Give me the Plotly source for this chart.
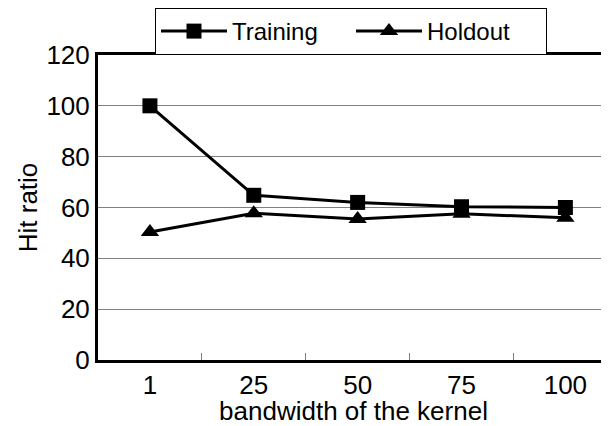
import plotly.graph_objects as go

categories = ["1", "25", "50", "75", "100"]
training = [100, 64.8, 62.0, 60.3, 60.0]
holdout = [50.4, 57.7, 55.5, 57.5, 56.0]
y_ticks = [0, 20, 40, 60, 80, 100, 120]

FONT = "Liberation Sans, Arial, sans-serif"

# The page body has an 8px margin, so the figure is sized to fit the window.
W, H = 601, 418

fig = go.Figure()
fig.add_trace(go.Scatter(
    x=categories, y=training, name="Training", mode="lines+markers",
    line=dict(color="black", width=3),
    marker=dict(symbol="square", size=15, color="black"),
    cliponaxis=False,
))
fig.add_trace(go.Scatter(
    x=categories, y=holdout, name="Holdout", mode="lines+markers",
    line=dict(color="black", width=3),
    marker=dict(symbol="triangle-up", size=16, color="black"),
    cliponaxis=False,
))

fig.update_layout(
    width=W, height=H,
    margin=dict(l=90, r=0, t=47, b=66, autoexpand=False),
    paper_bgcolor="white", plot_bgcolor="white",
    font=dict(family=FONT, color="black", size=26),
    showlegend=True,
    legend=dict(
        orientation="h", x=147 / W, xref="container", xanchor="left",
        y=1.0, yref="container", yanchor="top",
        bordercolor="black", borderwidth=1,
        font=dict(size=24), bgcolor="white",
        itemwidth=66,
        entrywidth=114, entrywidthmode="pixels",
        tracegroupgap=0,
    ),
    xaxis=dict(
        type="category", range=[-0.5, 4.42],
        showline=True, linecolor="black", linewidth=3, mirror=True,
        ticks="inside", tickson="boundaries", ticklen=7, tickcolor="#808080", tickwidth=1,
        showgrid=False, zeroline=False,
        tickfont=dict(size=26),
        title=dict(text="bandwidth of the kernel", font=dict(size=26), standoff=6),
    ),
    yaxis=dict(
        range=[0, 120], tickvals=y_ticks,
        showline=True, linecolor="black", linewidth=3,
        showgrid=True, gridcolor="#808080", gridwidth=1,
        zeroline=False, ticks="",
        tickfont=dict(size=26),
        title=dict(text="Hit ratio", font=dict(size=26), standoff=2),
    ),
)

fig.write_html("out.html")
